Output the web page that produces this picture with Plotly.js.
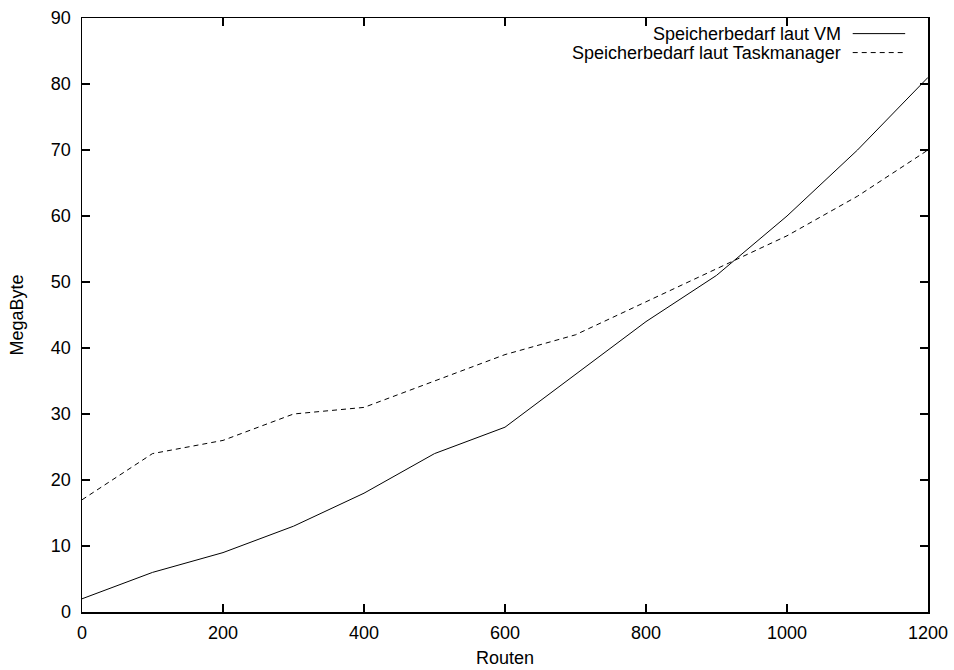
<!DOCTYPE html>
<html>
<head>
<meta charset="utf-8">
<script src="https://cdn.plot.ly/plotly-3.0.1.min.js"></script>
<style>html,body{margin:0;padding:0;background:#fff;}#chart{width:954px;height:670px;}</style>
</head>
<body>
<div id="chart"></div>
<script>
const routen = [0, 100, 200, 300, 400, 500, 600, 700, 800, 900, 1000, 1100, 1200];
const vm = [2, 6, 9, 13, 18, 24, 28, 36, 44, 51, 60, 70, 81];
const taskmanager = [17, 24, 26, 30, 31, 35, 39, 42, 47, 52, 57, 63, 70];
const seriesNames = ["Speicherbedarf laut VM", "Speicherbedarf laut Taskmanager"];
const xTicks = [0, 200, 400, 600, 800, 1000, 1200];
const yTicks = [0, 10, 20, 30, 40, 50, 60, 70, 80, 90];

const font = {family: "Liberation Sans, Arial, sans-serif", size: 18, color: "#000"};

const traces = [
  {x: routen, y: vm, mode: "lines", name: seriesNames[0], line: {color: "#000", width: 1}, showlegend: false},
  {x: routen, y: taskmanager, mode: "lines", name: seriesNames[1], line: {color: "#000", width: 1, dash: "5px,4px"}, showlegend: false}
];

const axisCommon = {
  showgrid: false, zeroline: false, showline: true, linecolor: "#000", linewidth: 1.5,
  mirror: "ticks", ticks: "inside", ticklen: 8, tickwidth: 1.5, tickcolor: "#000",
  tickfont: font
};

const layout = {
  width: 954, height: 670,
  margin: {l: 82, r: 26, t: 18, b: 58},
  paper_bgcolor: "#fff", plot_bgcolor: "#fff",
  font: font,
  xaxis: Object.assign({}, axisCommon, {range: [0, 1200], tickvals: xTicks, ticktext: xTicks.map(String),
    ticklabelstandoff: 4, title: {text: "Routen", font: font, standoff: 9}}),
  yaxis: Object.assign({}, axisCommon, {range: [0, 90], tickvals: yTicks, ticktext: yTicks.map(String),
    ticklabelstandoff: 6, title: {text: "MegaByte", font: font, standoff: 22}}),
  annotations: [
    {xref: "paper", yref: "paper", x: 0.8995, y: 0.9737, xanchor: "right", yanchor: "middle", text: seriesNames[0], showarrow: false, font: font},
    {xref: "paper", yref: "paper", x: 0.8995, y: 0.9418, xanchor: "right", yanchor: "middle", text: seriesNames[1], showarrow: false, font: font}
  ],
  shapes: [
    {type: "line", xref: "paper", yref: "paper", x0: 0.911, x1: 0.973, y0: 0.9737, y1: 0.9737, line: {color: "#000", width: 1}},
    {type: "line", xref: "paper", yref: "paper", x0: 0.911, x1: 0.973, y0: 0.9418, y1: 0.9418, line: {color: "#000", width: 1, dash: "5px,4px"}}
  ]
};

Plotly.newPlot("chart", traces, layout, {displayModeBar: false, staticPlot: true});
</script>
</body>
</html>
